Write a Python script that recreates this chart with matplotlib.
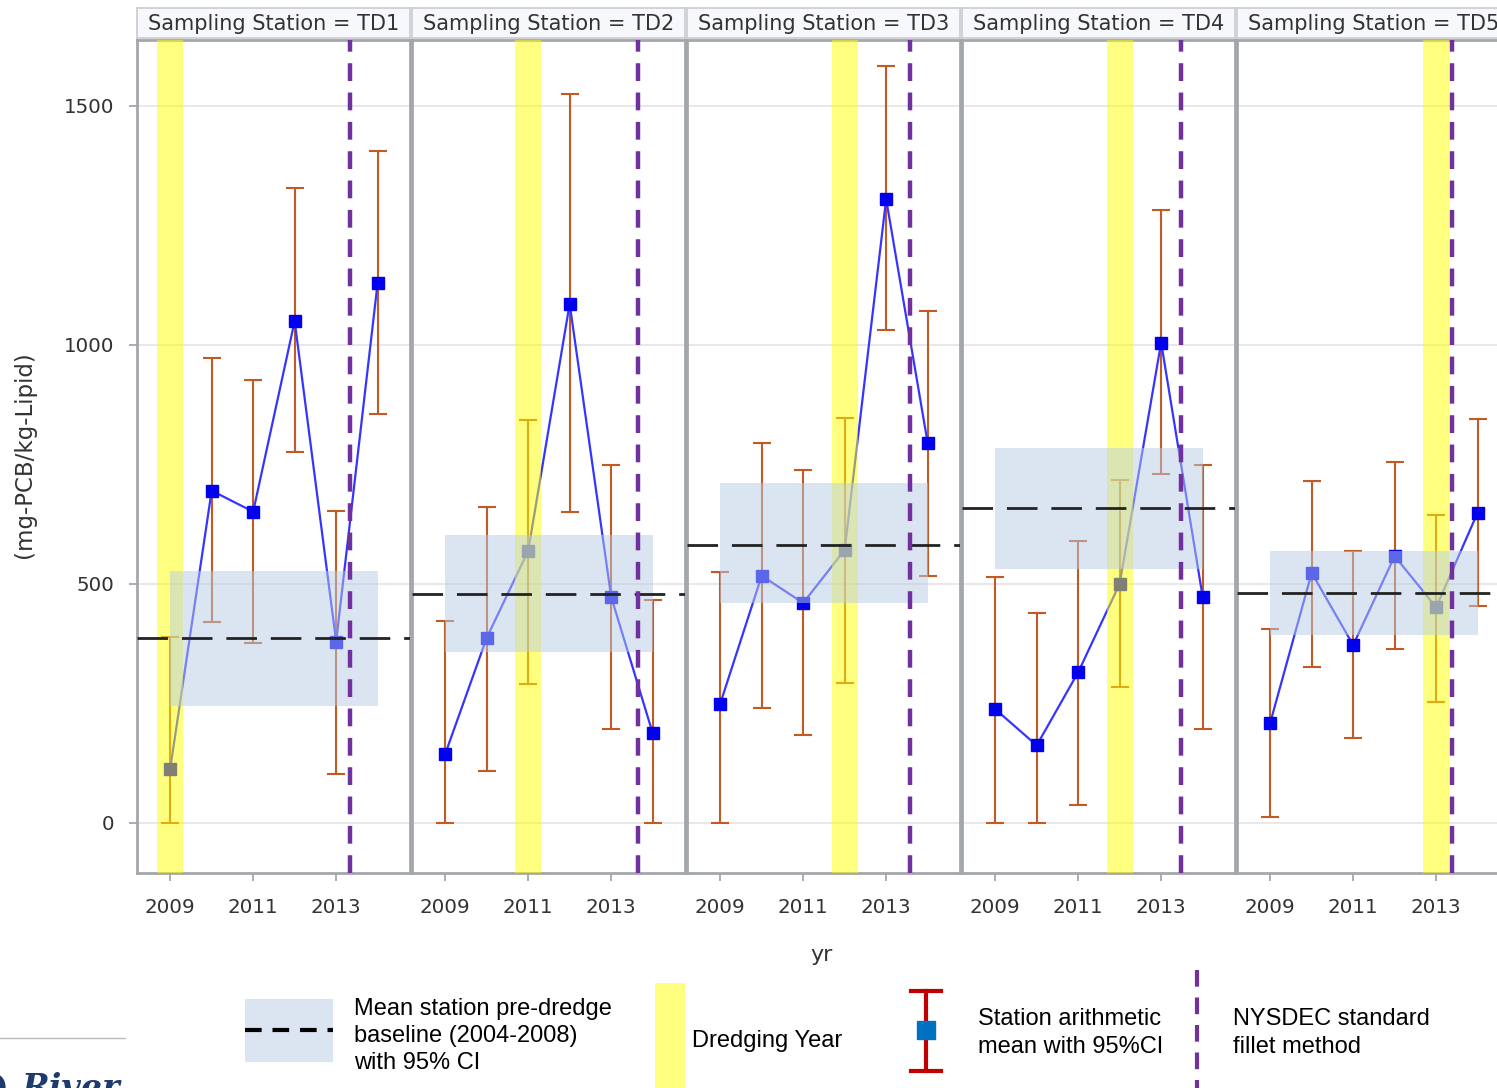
import matplotlib.pyplot as plt
from matplotlib.patches import Rectangle

# ---- data ----
years = [2009, 2010, 2011, 2012, 2013, 2014]
stations = ['TD1', 'TD2', 'TD3', 'TD4', 'TD5']

means = [
    [113, 695, 651, 1050, 379, 1130],
    [144, 387, 569, 1086, 473, 188],
    [249, 517, 460, 571, 1305, 795],
    [238, 162, 315, 500, 1005, 473],
    [209, 523, 372, 558, 451, 649],
]
ci_low = [
    [0, 420, 377, 776, 103, 856],
    [0, 109, 291, 651, 197, 0],
    [0, 241, 184, 293, 1031, 517],
    [0, 0, 38, 284, 730, 197],
    [12, 326, 178, 364, 253, 454],
]
ci_high = [
    [389, 973, 927, 1328, 653, 1406],
    [423, 661, 843, 1525, 749, 467],
    [525, 795, 738, 847, 1584, 1071],
    [515, 438, 590, 718, 1282, 748],
    [405, 716, 568, 754, 644, 844],
]

# pre-dredge baseline mean and 95% CI per station
baseline = [387, 479, 582, 658, 481]
base_low = [245, 358, 460, 532, 392]
base_high = [527, 603, 711, 784, 568]

dredge_year = [2009, 2011, 2012, 2012, 2013]
nysdec_x = [2013.34, 2013.65, 2013.58, 2013.48, 2013.37]

# ---- styling ----
err_color = '#C45A23'
line_color = '#3535FF'
marker_color = '#0000EE'
band_color = '#b8cce4'
yellow = '#FFFF00'
purple = '#7030A0'
frame_color = '#A3A7AB'
grid_color = '#E4E4E4'

W, H = 1497, 1088
fig = plt.figure(figsize=(W / 100, H / 100), dpi=100)

plot_top, plot_bot = 40, 873
panel_w, step = 273, 275
x0 = 137

for i, st in enumerate(stations):
    left = x0 + i * step
    ax = fig.add_axes([left / W, (H - plot_bot) / H, panel_w / W, (plot_bot - plot_top) / H])
    ax.set_xlim(2008.2, 2014.78)
    ax.set_ylim(-105, 1638)

    for g in [0, 500, 1000, 1500]:
        ax.axhline(g, color=grid_color, lw=1.2, zorder=0)

    m = means[i]
    lo = [m[k] - ci_low[i][k] for k in range(len(years))]
    hi = [ci_high[i][k] - m[k] for k in range(len(years))]
    ax.errorbar(years, m, yerr=[lo, hi], fmt='none', ecolor=err_color,
                elinewidth=1.5, capsize=6.5, capthick=1.5, zorder=2)
    ax.plot(years, m, color=line_color, lw=1.6, zorder=3)
    ax.plot(years, m, 's', color=marker_color, ms=8.5, zorder=3)

    # dredging year band
    ax.axvspan(dredge_year[i] - 0.31, dredge_year[i] + 0.31, color=yellow,
               alpha=0.5, lw=0, zorder=4)
    # baseline CI band and mean line
    ax.add_patch(Rectangle((years[0], base_low[i]), years[-1] - years[0],
                           base_high[i] - base_low[i], facecolor=band_color,
                           alpha=0.5, lw=0, zorder=5))
    ax.axhline(baseline[i], color='#222222', lw=2, dashes=(11, 5), zorder=6)
    ax.axvline(nysdec_x[i], color=purple, lw=3.2, dashes=(4, 2.6), zorder=7)

    for s in ax.spines.values():
        s.set_color(frame_color)
        s.set_linewidth(2)
    ax.set_xticks([2009, 2011, 2013])
    ax.tick_params(axis='x', colors=frame_color, labelcolor='#333333',
                   labelsize=14.3, length=6, width=1.3, pad=12)
    ax.set_yticks([0, 500, 1000, 1500])
    if i == 0:
        ax.tick_params(axis='y', colors=frame_color, labelcolor='#333333',
                       labelsize=14.3, length=6, width=1.3, pad=10)
    else:
        ax.tick_params(axis='y', length=0, labelleft=False)

    # header strip
    hax = fig.add_axes([left / W, (H - 38) / H, panel_w / W, 30 / H])
    hax.set_facecolor('#F7F8FC')
    hax.set_xticks([])
    hax.set_yticks([])
    for s in hax.spines.values():
        s.set_color('#C8CBD0')
        s.set_linewidth(1.2)
    hax.text(0.5, 0.45, f'Sampling Station = {st}', ha='center', va='center',
             fontsize=15, color='#333333', transform=hax.transAxes)

fig.text(25 / W, 1 - 455 / H, '(mg-PCB/kg-Lipid)', rotation=90, ha='center',
         va='center', fontsize=16.5, color='#333333')
fig.text(822 / W, 1 - 955 / H, 'yr', ha='center', va='center', fontsize=16,
         color='#333333')

# ---- legend at the bottom ----
leg = fig.add_axes([0, 0, 1, 1], facecolor='none')
leg.set_xlim(0, W)
leg.set_ylim(H, 0)
leg.axis('off')
lf = dict(family='Liberation Sans', fontsize=17, color='black', va='center')

leg.add_patch(Rectangle((245, 999), 88, 63, facecolor=band_color, alpha=0.5, lw=0))
leg.plot([245, 333], [1030, 1030], color='black', lw=3, dashes=(4, 2.6))
leg.text(354, 1036, 'Mean station pre-dredge\nbaseline (2004-2008)\nwith 95% CI',
         linespacing=1.32, **lf)

leg.add_patch(Rectangle((655, 983), 30, 105, facecolor=yellow, alpha=0.5, lw=0))
leg.text(692, 1041, 'Dredging Year', **lf)

leg.plot([926, 926], [991, 1071], color='#C00000', lw=3)
leg.plot([911, 941], [991, 991], color='#C00000', lw=3)
leg.plot([911, 941], [1071, 1071], color='#C00000', lw=3)
leg.plot([926], [1030], 's', color='#0070C0', ms=13)
leg.text(978, 1033, 'Station arithmetic\nmean with 95%CI', linespacing=1.32, **lf)

leg.plot([1197, 1197], [970, 1088], color=purple, lw=3, dashes=(4, 2.6))
leg.text(1233, 1033, 'NYSDEC standard\nfillet method', linespacing=1.32, **lf)

# cropped logo corner
leg.plot([0, 125], [1038, 1038], color='#BBBBBB', lw=1)
leg.text(22, 1098, 'River', family='DejaVu Serif', fontsize=24, weight='bold',
         style='italic', color='#1F3A6E', va='baseline')
leg.text(-8, 1098, ')', family='DejaVu Serif', fontsize=24, weight='bold',
         color='#1F3A6E', va='baseline')

fig.savefig('out.png', dpi=100)
